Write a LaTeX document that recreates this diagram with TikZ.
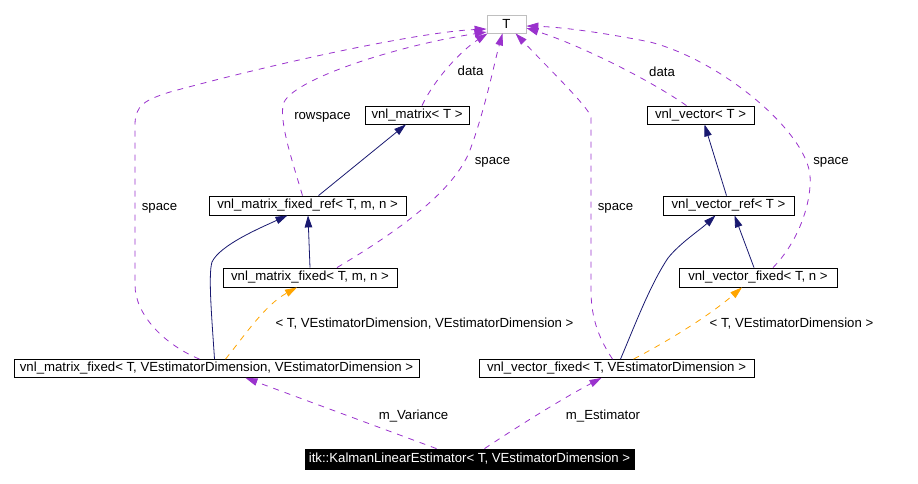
\documentclass[tikz,border=0pt]{standalone}
\usepackage{fontspec}
\setmainfont{Liberation Sans}
\usetikzlibrary{arrows.meta}
\definecolor{edgepurple}{HTML}{9A32CD}
\definecolor{edgenavy}{HTML}{191970}
\definecolor{edgeorange}{HTML}{FFA500}
\definecolor{boxgray}{HTML}{BFBFBF}
\tikzset{
  cls/.style={draw=black, line width=0.8pt, fill=white, minimum height=18pt, inner sep=0pt, font=\fontsize{13.2}{15}\selectfont},
  lbl/.style={inner sep=0pt, font=\fontsize{13.2}{15}\selectfont},
  tip/.style={-{Triangle[length=12pt,width=7.5pt]}},
  usage/.style={tip, draw=edgepurple, line width=0.8pt, dash pattern=on 6pt off 6pt},
  inherit/.style={tip, draw=edgenavy, line width=0.8pt},
  templ/.style={tip, draw=edgeorange, line width=0.8pt, dash pattern=on 6pt off 6pt},
}
\begin{document}
\begin{tikzpicture}[x=1pt,y=-1pt]
\useasboundingbox (0,0) rectangle (918,483);
% nodes
\node[cls, draw=boxgray, minimum width=39pt] (T) at (506.5,24) {T};
\node[cls, minimum width=104pt] (vm) at (417,115) {vnl\_matrix< T >};
\node[cls, minimum width=107pt] (vv) at (700.5,115) {vnl\_vector< T >};
\node[cls, minimum width=197pt, minimum height=19pt] (vmfr) at (307.5,205.5) {vnl\_matrix\_fixed\_ref< T, m, n >};
\node[cls, minimum width=131pt, minimum height=19pt] (vvr) at (728.5,205.5) {vnl\_vector\_ref< T >};
\node[cls, minimum width=174pt, minimum height=19pt] (vmf) at (310,277.5) {vnl\_matrix\_fixed< T, m, n >};
\node[cls, minimum width=158pt, minimum height=19pt] (vvf) at (758,277.5) {vnl\_vector\_fixed< T, n >};
\node[cls, minimum width=405pt] (vmfV) at (216.5,368.5) {vnl\_matrix\_fixed< T, VEstimatorDimension, VEstimatorDimension >};
\node[cls, minimum width=275pt] (vvfV) at (616.5,368.5) {vnl\_vector\_fixed< T, VEstimatorDimension >};
\node[cls, fill=black, text=white, minimum width=329pt, minimum height=20pt] (itk) at (469.5,459) {itk::KalmanLinearEstimator< T, VEstimatorDimension >};

% labels
\node[lbl] (l1) at (159.5,208) {space};
\node[lbl] (l2) at (322.5,117) {rowspace};
\node[lbl] (l3) at (470.5,71) {data};
\node[lbl] (l4) at (492.5,162) {space};
\node[lbl] (l5) at (615.5,208) {space};
\node[lbl] (l6) at (662,72) {data};
\node[lbl] (l7) at (831,162) {space};
\node[lbl] (l8) at (413.5,416) {m\_Variance};
\node[lbl] (l9) at (603,416) {m\_Estimator};
\node[lbl] (l10) at (424.5,324) {< T, VEstimatorDimension, VEstimatorDimension >};
\node[lbl] (l11) at (791.5,324) {< T, VEstimatorDimension >};

% purple usage edges
\draw[usage] ([xshift=-17pt]vmfV.north) .. controls (165,345) and (135,315) .. (135,285) -- (135,125) .. controls (135,105) and (145,100) .. (170,92) .. controls (280,62) and (420,32) .. ([yshift=-5pt]T.west);
\draw[usage] ([xshift=-5pt]vmfr.north) .. controls (292,160) and (280,125) .. (283,105) .. controls (288,80) and (400,45) .. ([yshift=-8pt]T.west);
\draw[usage] ([xshift=5pt]vm.north) .. controls (435,78) and (462,50) .. ([xshift=1pt]T.south west);
\draw[usage] ([xshift=27pt]vmf.north) .. controls (400,230) and (455,190) .. (470,150) .. controls (485,110) and (495,60) .. ([xshift=-4pt]T.south);
\draw[usage] ([xshift=-4pt]vvfV.north) .. controls (600,340) and (591,320) .. (591,290) -- (591,118) .. controls (591,110) and (560,80) .. ([xshift=9pt]T.south);
\draw[usage] ([xshift=-14pt]vv.north) .. controls (650,80) and (580,45) .. ([yshift=-4pt]T.east);
\draw[usage] ([xshift=15pt]vvf.north) .. controls (800,240) and (812,200) .. (810,175) .. controls (805,130) and (720,60) .. (650,42) .. controls (600,32) and (560,27) .. ([yshift=-2pt]T.east);
\draw[usage] ([xshift=-33pt]itk.north) -- ([xshift=29pt]vmfV.south);
\draw[usage] ([xshift=15pt]itk.north) .. controls (520,425) and (560,400) .. ([xshift=-15pt]vvfV.south);

% navy inheritance edges
\draw[inherit] ([xshift=11pt]vmfr.north) -- ([xshift=-11pt]vm.south);
\draw[inherit] (vmf.north) -- ([xshift=0.5pt]vmfr.south);
\draw[inherit] ([xshift=-2pt]vmfV.north) .. controls (212,320) and (208,275) .. (212,262) .. controls (220,245) and (260,228) .. ([xshift=-20pt]vmfr.south);
\draw[inherit] ([xshift=-2pt]vvr.north) -- ([xshift=4pt]vv.south);
\draw[inherit] ([xshift=-4pt]vvf.north) -- ([xshift=6pt]vvr.south);
\draw[inherit] ([xshift=4pt]vvfV.north) .. controls (635,325) and (650,285) .. (668,258) .. controls (680,243) and (700,230) .. ([xshift=-13pt]vvr.south);

% orange template edges
\draw[templ] ([xshift=9pt]vmfV.north) .. controls (245,335) and (265,305) .. ([xshift=-13pt]vmf.south);
\draw[templ] ([xshift=17pt]vvfV.north) .. controls (670,340) and (710,315) .. ([xshift=-16pt]vvf.south);
\end{tikzpicture}
\end{document}
